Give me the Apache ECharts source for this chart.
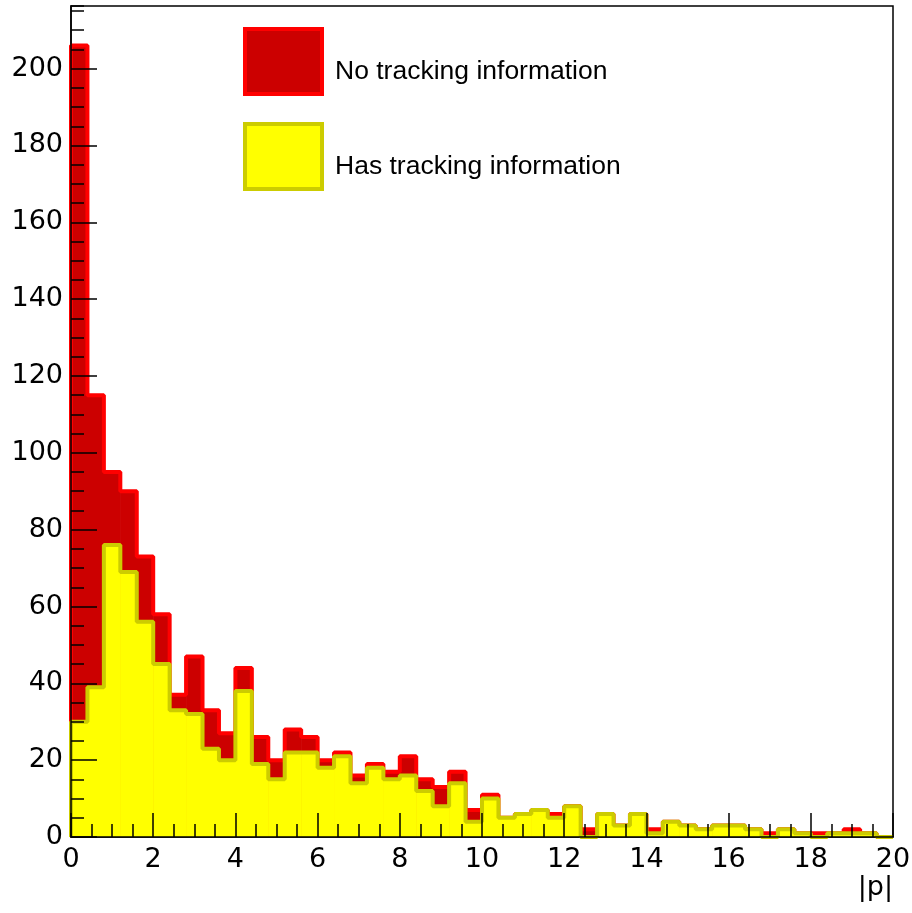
<!DOCTYPE html>
<html>
<head>
<meta charset="utf-8">
<script src="https://cdn.jsdelivr.net/npm/echarts@6/dist/echarts.min.js"></script>
<style>
  html, body { margin: 0; padding: 0; background: #fff; }
  #chart { width: 912px; height: 913px; }
</style>
</head>
<body>
<div id="chart"></div>
<script>
// histogram of |p|, 50 bins of 0.4 from 0 to 20
const xStart = 0
const binWidth = 0.4

// counts
const hasTrack = [
  30, 39, 76, 69, 56, 45, 33, 32, 23, 20,
  38, 19, 15, 22, 22, 18, 21, 14, 18, 15,
  16, 12, 8, 14, 4, 10, 5, 6, 7, 5,
  8, 0, 6, 3, 6, 1, 4, 3, 2, 3,
  3, 2, 0, 2, 1, 0, 1, 1, 1, 0
]
const noTrack = [
  176, 76, 19, 21, 17, 13, 4, 15, 10, 7,
  6, 7, 5, 6, 4, 2, 1, 2, 1, 2,
  5, 3, 5, 3, 3, 1, 0, 0, 0, 1,
  0, 2, 0, 0, 0, 1, 0, 0, 0, 0,
  0, 0, 1, 0, 0, 1, 0, 1, 0, 0
]

const seriesNames = ['No tracking information', 'Has tracking information']
const fillColors = ['#cc0000', '#ffff00']
const lineColors = ['#ff0000', '#cccc00']
const textFont = '"Liberation Sans", Arial, Helvetica, sans-serif'
const tickFont = '"DejaVu Sans", sans-serif'

// red histogram is drawn on top of the yellow one (stacked)
const totals = hasTrack.map((v, i) => v + noTrack[i])

function binData(values) {
  return values.map((v, i) => [xStart + i * binWidth, xStart + (i + 1) * binWidth, v])
}

// outline of a histogram: step line through the bin edges
function outlineData(values) {
  const pts = [[xStart, 0]]
  values.forEach((v, i) => pts.push([xStart + i * binWidth, v]))
  const xEnd = xStart + values.length * binWidth
  pts.push([xEnd, values[values.length - 1]])
  pts.push([xEnd, 0])
  return pts
}

function barRenderer(color) {
  return function (params, api) {
    const p0 = api.coord([api.value(0), api.value(2)])
    const p1 = api.coord([api.value(1), 0])
    return {
      type: 'rect',
      shape: { x: p0[0], y: p0[1], width: p1[0] - p0[0] + 0.6, height: p1[1] - p0[1] },
      style: { fill: color }
    }
  }
}

const chart = echarts.init(document.getElementById('chart'))

const tickLine = { color: '#000', width: 1.5 }

chart.setOption({
  animation: false,
  backgroundColor: '#fff',
  grid: {
    left: 71, right: 19, top: 6, bottom: 76,
    outerBoundsMode: 'none',
    containLabel: false,
    show: true, borderColor: '#000', borderWidth: 1.5, backgroundColor: 'transparent'
  },
  legend: {
    orient: 'vertical',
    left: 243,
    top: 27,
    padding: 0,
    itemWidth: 77,
    itemHeight: 65,
    itemGap: 26,
    selectedMode: false,
    formatter: name => '{t|' + name + '}',
    textStyle: {
      color: '#000',
      rich: { t: { fontSize: 26.5, color: '#000', fontFamily: textFont, padding: [20, 0, 0, 8] } }
    },
    data: [
      { name: seriesNames[0], icon: 'rect', itemStyle: { color: fillColors[0], borderColor: lineColors[0], borderWidth: 4 } },
      { name: seriesNames[1], icon: 'rect', itemStyle: { color: fillColors[1], borderColor: lineColors[1], borderWidth: 4 } }
    ]
  },
  xAxis: {
    type: 'value',
    min: 0,
    max: 20,
    interval: 2,
    z: 10,
    name: '|p|',
    nameLocation: 'end',
    nameGap: 0,
    nameTextStyle: { fontSize: 27, color: '#000', fontFamily: tickFont, align: 'right', verticalAlign: 'top', padding: [37, 0, 0, 0] },
    axisLine: { lineStyle: { color: '#000', width: 1.5 } },
    axisTick: { inside: true, length: 24, lineStyle: tickLine },
    minorTick: { show: true, splitNumber: 4, length: 13, lineStyle: tickLine },
    splitLine: { show: false },
    axisLabel: { fontSize: 27, color: '#000', fontFamily: tickFont, margin: 9 }
  },
  yAxis: [
    {
      type: 'value',
      min: 0,
      max: 216.3,
      interval: 20,
      z: 10,
      axisLine: { show: true, lineStyle: { color: '#000', width: 1.5 } },
      axisTick: { inside: true, length: 26, lineStyle: tickLine },
      splitLine: { show: false },
      axisLabel: { fontSize: 27, color: '#000', fontFamily: tickFont, margin: 8, showMaxLabel: false }
    },
    {
      // small ticks every 5
      type: 'value',
      position: 'left',
      offset: 0,
      min: 0,
      max: 216.3,
      interval: 5,
      z: 10,
      axisLine: { show: false },
      axisTick: { inside: true, length: 13, lineStyle: tickLine },
      splitLine: { show: false },
      axisLabel: { show: false }
    }
  ],
  series: [
    {
      name: seriesNames[0],
      type: 'custom',
      z: 1,
      renderItem: barRenderer(fillColors[0]),
      encode: { x: [0, 1], y: 2 },
      itemStyle: { color: fillColors[0] },
      data: binData(totals)
    },
    {
      name: 'noTrackOutline',
      type: 'line',
      z: 2,
      step: 'end',
      showSymbol: false,
      symbol: 'none',
      lineStyle: { color: lineColors[0], width: 4 },
      data: outlineData(totals)
    },
    {
      name: seriesNames[1],
      type: 'custom',
      z: 3,
      renderItem: barRenderer(fillColors[1]),
      encode: { x: [0, 1], y: 2 },
      itemStyle: { color: fillColors[1] },
      data: binData(hasTrack)
    },
    {
      name: 'hasTrackOutline',
      type: 'line',
      z: 4,
      step: 'end',
      showSymbol: false,
      symbol: 'none',
      lineStyle: { color: lineColors[1], width: 4 },
      data: outlineData(hasTrack)
    }
  ]
})
</script>
</body>
</html>
